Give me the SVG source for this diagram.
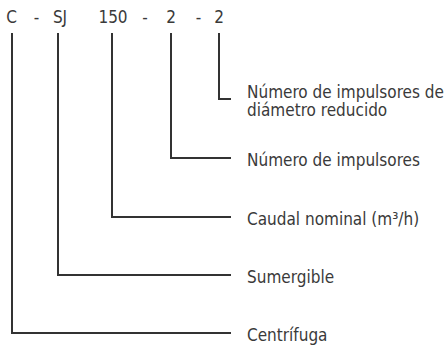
<svg xmlns="http://www.w3.org/2000/svg" width="447" height="349" viewBox="0 0 447 349">
<style>
text{font-family:"DejaVu Sans Condensed","DejaVu Sans",sans-serif;font-stretch:condensed;font-size:17px;fill:#3a3a3a}
.code{text-anchor:middle}
.c{fill:none;stroke:#333;stroke-width:2}
</style>
<rect width="447" height="349" fill="#fff"/>
<g id="code">
<text class="code" x="11.5" y="22.5">C</text>
<text class="code" x="36.5" y="22.5">-</text>
<text class="code" x="60" y="22.5">SJ</text>
<text class="code" x="113" y="22.5">150</text>
<text class="code" x="145" y="22.5">-</text>
<text class="code" x="171" y="22.5">2</text>
<text class="code" x="198.5" y="22.5">-</text>
<text class="code" x="219" y="22.5">2</text>
</g>
<g id="connectors">
<polyline class="c" points="219,33 219,99 231,99"/>
<polyline class="c" points="171,33 171,158 231,158"/>
<polyline class="c" points="112,33 112,217 231,217"/>
<polyline class="c" points="58,33 58,275 231,275"/>
<polyline class="c" points="12,33 12,333 231,333"/>
</g>
<g id="n-reducido"><text x="247" y="98">Número de impulsores de</text><text x="247" y="116">diámetro reducido</text></g>
<g id="n-impulsores"><text x="247" y="165.5">Número de impulsores</text></g>
<g id="caudal"><text x="247" y="224.5">Caudal nominal (m³/h)</text></g>
<g id="sumergible"><text x="247" y="282.5">Sumergible</text></g>
<g id="centrifuga"><text x="247" y="340.5">Centrífuga</text></g>
</svg>
